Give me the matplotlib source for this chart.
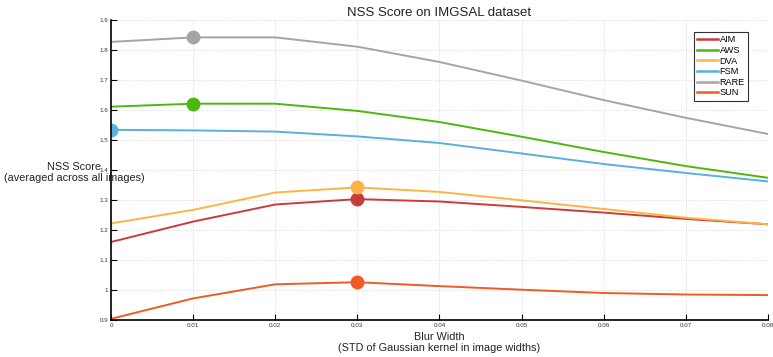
import numpy as np
import matplotlib
matplotlib.use("Agg")
import matplotlib.pyplot as plt

plt.rcParams['font.family'] = ['Liberation Sans', 'DejaVu Sans']

# blur widths (STD of gaussian kernel in image widths)
blur = [0, 0.01, 0.02, 0.03, 0.04, 0.05, 0.06, 0.07, 0.08]

# NSS scores
aim = [1.160, 1.228, 1.285, 1.303, 1.295, 1.277, 1.258, 1.237, 1.219]
aws = [1.611, 1.621, 1.621, 1.597, 1.560, 1.511, 1.460, 1.413, 1.374]
dva = [1.222, 1.267, 1.325, 1.342, 1.327, 1.299, 1.270, 1.241, 1.219]
fsm = [1.534, 1.532, 1.528, 1.512, 1.490, 1.455, 1.420, 1.390, 1.362]
rare = [1.827, 1.842, 1.842, 1.811, 1.760, 1.698, 1.633, 1.574, 1.520]
sun = [0.904, 0.972, 1.019, 1.026, 1.013, 1.001, 0.990, 0.985, 0.983]

names = ["AIM", "AWS", "DVA", "FSM", "RARE", "SUN"]
colors = ["#cc3b3b", "#4cb80f", "#ffb347", "#58b0df", "#a5a5a8", "#f05b25"]
series = [aim, aws, dva, fsm, rare, sun]

fig = plt.figure(figsize=(7.73, 3.57), dpi=100)
ax = fig.add_axes([0.1436, 0.1036, 0.8499, 0.8404])

for name, col, vals in zip(names, colors, series):
    ax.plot(blur, vals, color=col, linewidth=1.4, label=name)
    # mark the best blur width
    i = int(np.argmax(vals))
    ax.plot(blur[i], vals[i], 'o', color=col, markersize=9)

ax.set_xlim(0, 0.08)
ax.set_ylim(0.9, 1.9)
ax.set_xticks(blur)
ax.set_yticks(np.arange(0.9, 1.91, 0.1))
ax.set_xticklabels([f"{b:g}" for b in blur])
ax.set_yticklabels([f"{v:g}" for v in np.round(np.arange(0.9, 1.91, 0.1), 1)])
ax.tick_params(direction='in', labelsize=4.5, color='black', labelcolor='#333333',
               length=4, pad=2)

for s in ['top', 'right']:
    ax.spines[s].set_visible(False)
for s in ['left', 'bottom']:
    ax.spines[s].set_linewidth(1.2)

ax.grid(True, linestyle=':', color='#d8d8d8', linewidth=0.7)

ax.set_title("NSS Score on IMGSAL dataset", fontsize=9.5, pad=3, color='#222222')
ax.set_xlabel("Blur Width\n(STD of Gaussian kernel in image widths)", fontsize=7.8,
              labelpad=3, linespacing=1.1, color='#222222')
ax.set_ylabel("NSS Score\n(averaged across all images)", fontsize=7.8, rotation=0,
              ha='center', va='center', linespacing=1.1, color='#222222')
ax.yaxis.set_label_coords(-0.056, 0.493)

leg = ax.legend(loc='upper right', bbox_to_anchor=(0.9696, 0.96), borderaxespad=0,
                fontsize=6.6, handlelength=2.3, handletextpad=0.15, labelspacing=0.18,
                borderpad=0.35, frameon=True, fancybox=False)
leg.get_frame().set_edgecolor('black')
leg.get_frame().set_linewidth(0.8)
for l in leg.get_lines():
    l.set_linewidth(1.8)

fig.savefig("out.png", dpi=100)
